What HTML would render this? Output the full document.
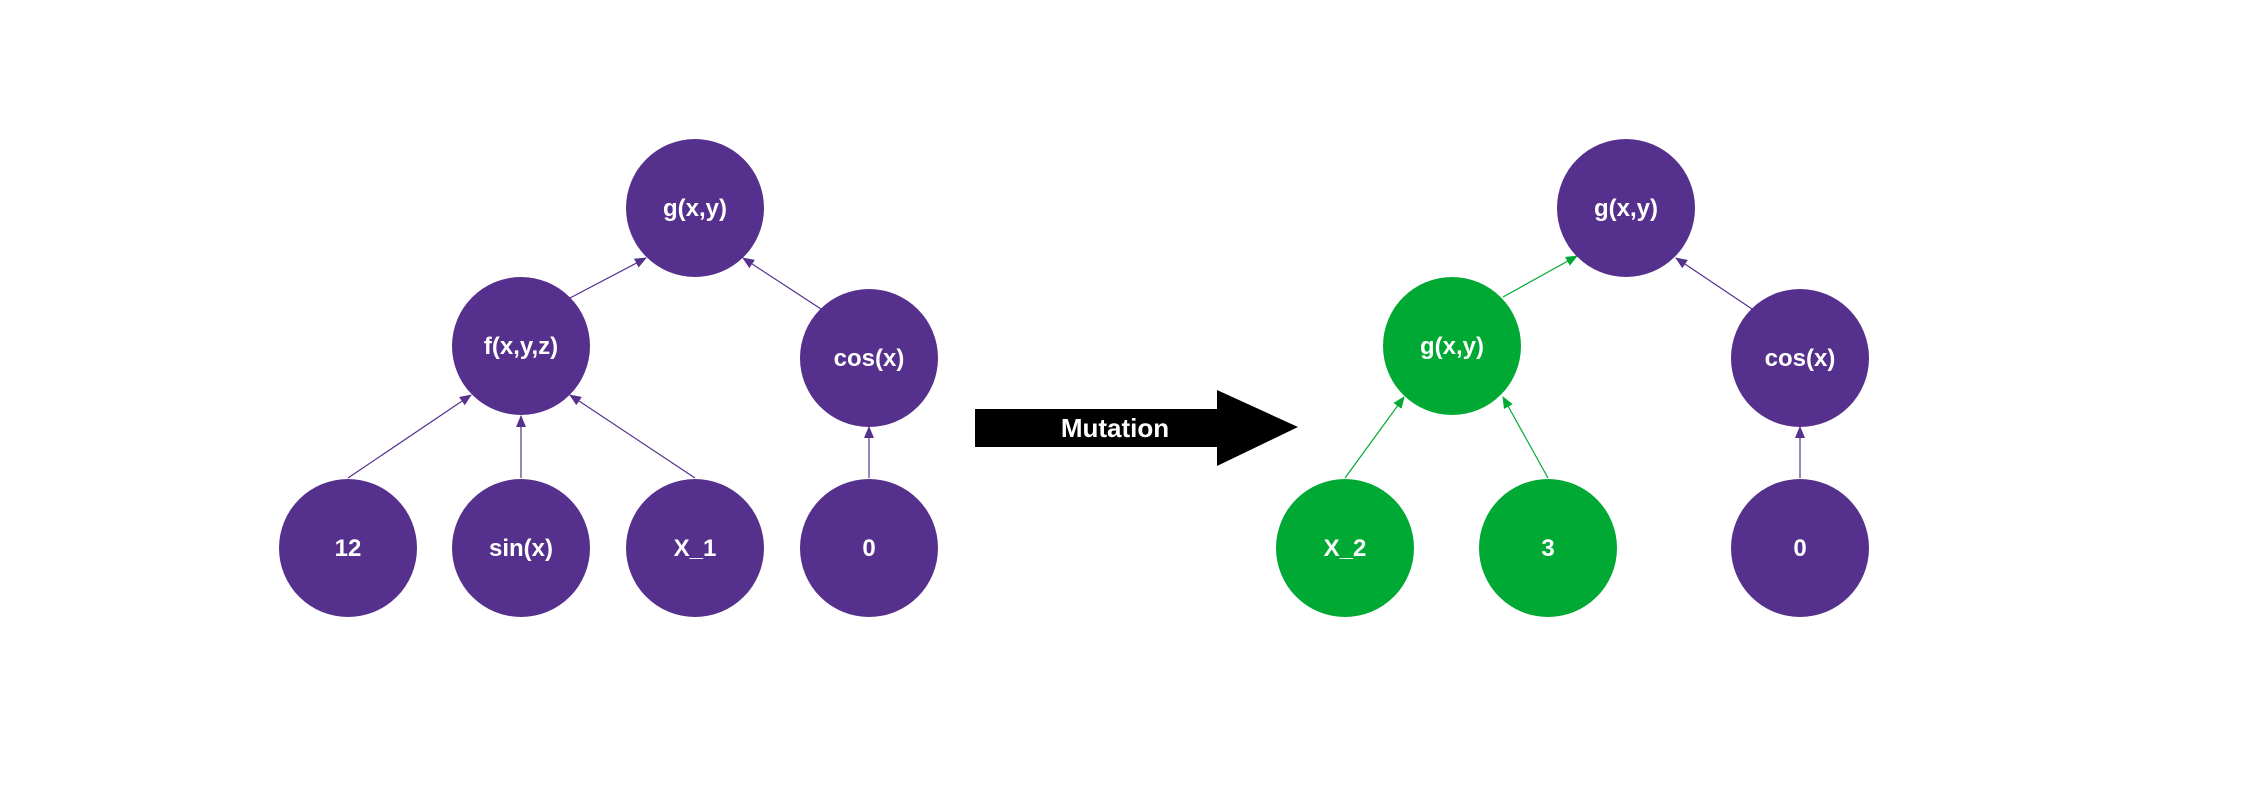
<!DOCTYPE html>
<html><head><meta charset="utf-8"><style>
html,body{margin:0;padding:0;background:#fff;}
svg{display:block;}
text{font-family:"Liberation Sans",sans-serif;font-weight:bold;fill:#fff;}
</style></head><body>
<svg width="2246" height="795" viewBox="0 0 2246 795" xmlns="http://www.w3.org/2000/svg">
<defs>
<marker id="ap" markerWidth="12" markerHeight="10" refX="11" refY="5" orient="auto" markerUnits="userSpaceOnUse"><path d="M0,0 L12,5 L0,10 Z" fill="#55308d"/></marker>
<marker id="ag" markerWidth="12" markerHeight="10" refX="11" refY="5" orient="auto" markerUnits="userSpaceOnUse"><path d="M0,0 L12,5 L0,10 Z" fill="#00a933"/></marker>
</defs>
<g stroke-width="1.2" fill="none">
<line x1="570" y1="298" x2="646" y2="258" stroke="#55308d" marker-end="url(#ap)"/>
<line x1="821" y1="309" x2="743" y2="258" stroke="#55308d" marker-end="url(#ap)"/>
<line x1="348" y1="478" x2="471" y2="395" stroke="#55308d" marker-end="url(#ap)"/>
<line x1="521" y1="478" x2="521" y2="416" stroke="#55308d" marker-end="url(#ap)"/>
<line x1="695" y1="478" x2="570" y2="395" stroke="#55308d" marker-end="url(#ap)"/>
<line x1="869" y1="478" x2="869" y2="427" stroke="#55308d" marker-end="url(#ap)"/>
<line x1="1503" y1="297" x2="1577" y2="256" stroke="#00a933" marker-end="url(#ag)"/>
<line x1="1752" y1="309" x2="1676" y2="258" stroke="#55308d" marker-end="url(#ap)"/>
<line x1="1345" y1="478" x2="1404" y2="397" stroke="#00a933" marker-end="url(#ag)"/>
<line x1="1548" y1="478" x2="1503" y2="397" stroke="#00a933" marker-end="url(#ag)"/>
<line x1="1800" y1="478" x2="1800" y2="427" stroke="#55308d" marker-end="url(#ap)"/>
</g>
<g fill="#55308d">
<circle cx="695" cy="208" r="69"/>
<circle cx="521" cy="346" r="69"/>
<circle cx="869" cy="358" r="69"/>
<circle cx="348" cy="548" r="69"/>
<circle cx="521" cy="548" r="69"/>
<circle cx="695" cy="548" r="69"/>
<circle cx="869" cy="548" r="69"/>
<circle cx="1626" cy="208" r="69"/>
<circle cx="1800" cy="358" r="69"/>
<circle cx="1800" cy="548" r="69"/>
</g>
<g fill="#00a933">
<circle cx="1452" cy="346" r="69"/>
<circle cx="1345" cy="548" r="69"/>
<circle cx="1548" cy="548" r="69"/>
</g>
<g font-size="24" text-anchor="middle">
<text x="695" y="216">g(x,y)</text>
<text x="521" y="354">f(x,y,z)</text>
<text x="869" y="366">cos(x)</text>
<text x="348" y="556">12</text>
<text x="521" y="556">sin(x)</text>
<text x="695" y="556">X_1</text>
<text x="869" y="556">0</text>
<text x="1626" y="216">g(x,y)</text>
<text x="1452" y="354">g(x,y)</text>
<text x="1800" y="366">cos(x)</text>
<text x="1345" y="556">X_2</text>
<text x="1548" y="556">3</text>
<text x="1800" y="556">0</text>
</g>
<path d="M975,409 L1217,409 L1217,390 L1298,427 L1217,466 L1217,447 L975,447 Z" fill="#000"/>
<text x="1115" y="437" font-size="26" text-anchor="middle">Mutation</text>
</svg>
</body></html>
